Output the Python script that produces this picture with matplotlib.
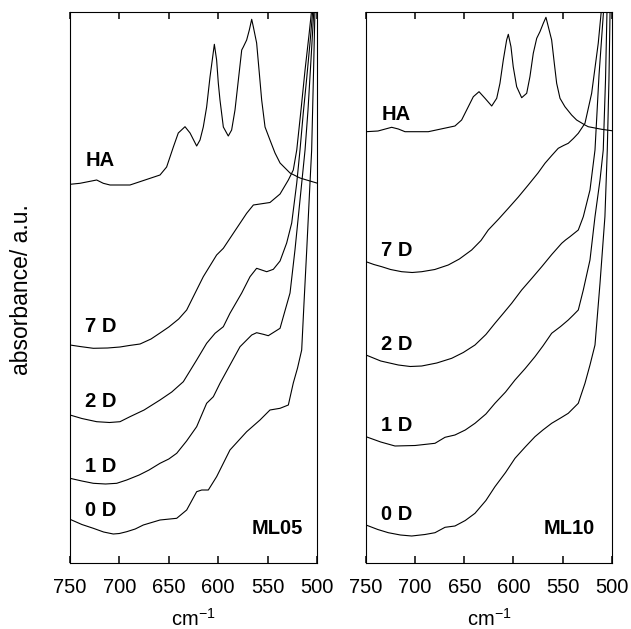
import numpy as np
import matplotlib
matplotlib.use("Agg")
import matplotlib.pyplot as plt

plt.rcParams['font.family'] = ['Liberation Sans', 'DejaVu Sans']
plt.rcParams['mathtext.fontset'] = 'custom'
plt.rcParams['mathtext.rm'] = 'Liberation Sans'
plt.rcParams['mathtext.it'] = 'Liberation Sans'
plt.rcParams['xtick.direction'] = 'in'
plt.rcParams['xtick.top'] = True
plt.rcParams['xtick.major.size'] = 5
plt.rcParams['xtick.major.width'] = 1.1

# ---- ML05 panel (wavenumber cm-1, absorbance a.u. stacked) ----
ml05_ha_wn = [750, 739.9, 723.0, 716.3, 709.5, 689.3, 658.9, 652.2, 645.4, 640.4, 633.6, 628.5,
              621.8, 618.4, 615.1, 611.7, 608.3, 605.6, 603.9, 601.6, 599.9, 598.2, 594.8, 589.8,
              586.4, 583.0, 579.6, 576.2, 574.6, 571.2, 568.5, 566.1, 564.4, 561.1, 558.4, 556.0,
              552.6, 547.6, 542.5, 537.4, 527.3, 517.2, 510.5, 500.3]
ml05_ha_y = [378.7, 379.7, 383, 379.7, 378, 378, 388, 396, 416, 430, 436.3, 430,
             417, 423, 436, 456, 486, 506, 518.7, 503, 480, 463, 436, 427,
             433, 453, 483, 513, 516, 523, 533, 543.7, 536, 520, 490, 463,
             436, 423, 410, 400, 390, 385, 383, 380]

ml05_7d_wn = [750, 740, 726.4, 712, 699.4, 690, 679.1, 668, 658.9, 650, 640, 631.9, 625.2, 615.1,
              601.6, 594.8, 584.7, 571.2, 564.4, 557.7, 547.6, 537.4, 529.0, 524.0, 520.5, 516.2,
              512.1, 508.1, 505.1]
ml05_7d_y = [218, 216.5, 214.7, 215, 216, 217.5, 219, 224, 230, 236, 244, 253, 266.3, 286.3,
             308, 314.7, 329.7, 349.7, 358, 359, 360.5, 369, 383, 393, 413, 453,
             493, 528, 556]

ml05_2d_wn = [750, 738, 723.0, 710, 699.4, 689.3, 675, 658.9, 647, 635.3, 621.8, 611.7, 603.2,
              594.8, 588.1, 576.2, 567.8, 561.1, 556.0, 550.9, 544.2, 537.4, 530.7, 525.6, 520.5,
              517.2, 513.9, 510.4, 507.1, 504.0]
ml05_2d_y = [148, 144.5, 141.3, 140.5, 141.3, 146.3, 153, 163, 171, 181.3, 203, 219.7, 229.7,
             236.3, 249.7, 270, 286.3, 294.7, 293, 291.3, 293.7, 302, 320, 340, 380,
             413, 450, 485, 520, 556]

ml05_1d_wn = [750, 738, 726.4, 714, 702.7, 692.6, 680, 670, 658.9, 650, 642.0, 632, 621.8, 611.7,
              604.9, 598.2, 577.9, 566.1, 561.1, 554.3, 549.3, 537.4, 534.1, 527.3, 522.3, 517.2,
              512.1, 509.1, 506.1, 503.0]
ml05_1d_y = [84.7, 82, 79.7, 79, 79.7, 83, 88, 93, 99.7, 104, 109.7, 122, 136.3, 159.7,
             166.3, 179.7, 216.3, 228, 230.3, 228.7, 227.3, 234.7, 246.3, 270, 313, 363,
             413, 453, 503, 556]

ml05_0d_wn = [750, 738, 726.4, 716, 706.2, 700, 692.6, 684, 675.8, 658.9, 642.0, 631.9, 621.8,
              616.7, 610.0, 601.6, 588.1, 571.2, 557.7, 547.6, 537.4, 529.0, 524.0, 519.7, 515.5,
              513.2, 510.4, 507.1, 505.4, 503.7, 502.0]
ml05_0d_y = [43.7, 38.5, 34.7, 31, 29, 29.5, 31.3, 34, 38, 43, 44.7, 53, 71.3,
             73, 73, 86.3, 113, 131.3, 143, 153, 154.7, 158, 180, 195, 213,
             259, 313, 380, 413, 483, 556]

# ---- ML10 panel ----
ml10_ha_wn = [750, 737.8, 723.9, 717.1, 710.3, 686.6, 659.5, 652.7, 645.9, 640.8, 635.0, 628.9,
              622.1, 617.0, 613.7, 610.3, 606.9, 605.2, 602.5, 600.2, 596.7, 591.6, 586.5, 583.2,
              579.8, 576.3, 573.0, 569.6, 566.9, 564.5, 561.1, 558.4, 556.0, 552.6, 547.6, 540.8,
              535.7, 527.2, 523.9, 510.2, 500.0]
ml10_ha_y = [431.3, 432, 435.7, 434, 431.3, 431.3, 437, 443, 456.3, 466.3, 471.3, 464.7,
             457, 464.7, 479.7, 503, 523, 528.7, 516.3, 496.3, 476.3, 465.3, 469.7, 486.3,
             509.7, 524.7, 531.3, 539.7, 545.7, 536.3, 523, 499.7, 479.7, 464.7, 456.3, 448,
             443, 438, 436.3, 433.7, 432.3]

ml10_7d_wn = [750, 742, 734.0, 725, 713.7, 703, 693.3, 680, 666.3, 655, 642.5, 633, 625.6, 615,
              605.2, 595, 584.9, 575, 567.9, 561, 554.4, 549, 544.2, 539, 534.0, 527.2, 520.4,
              513.7, 510.2]
ml10_7d_y = [301.3, 298.5, 296.3, 293.5, 291.3, 290.5, 291.3, 293.5, 298, 304, 313, 322.5, 333, 344,
             354.7, 366, 378, 390, 399.7, 407.5, 414.7, 417.5, 419.7, 424.5, 429.7, 439.7, 469.7,
             519.7, 556]

ml10_2d_wn = [750, 735, 717.1, 705, 693.3, 678, 662.8, 651, 639.1, 628, 618.8, 610, 601.8, 591.6,
              581, 571.2, 561, 550.9, 547, 542.5, 534.0, 528.9, 522.1, 517.0, 512.9, 508.0]
ml10_2d_y = [208, 202, 198, 196.5, 197, 200, 204.7, 210.5, 218, 228.5, 239.7, 250, 259.7, 273,
             285, 296.3, 308.5, 319.7, 323, 326.3, 333, 346.3, 373, 413, 488, 556]

ml10_1d_wn = [750, 735, 720.5, 700, 679.8, 669.6, 659.5, 649, 639.1, 628, 618.8, 608, 598.4, 588,
              578.1, 570, 561.1, 552, 544.2, 539, 534.0, 528.9, 522.1, 517.0, 511.9, 508.6, 506.3,
              504.7]
ml10_1d_y = [126.3, 121, 117, 117.5, 119.7, 125.7, 128, 133, 139.7, 149, 159.7, 171, 183, 194.5,
             206.3, 217, 229.7, 236.5, 243, 248, 253, 273, 303, 346.3, 383, 413, 483,
             556]

ml10_0d_wn = [750, 738, 727.3, 715, 703.5, 690, 679.8, 669.6, 659.5, 649, 639.1, 628, 618.8, 608,
              598.4, 588, 578.1, 570, 561.1, 552, 544.2, 534.0, 527.2, 522.1, 517.0, 511.9, 506.9,
              504.5, 502.8, 501.6]
ml10_0d_y = [38, 33.5, 30.3, 28, 27, 28.5, 30.3, 35.7, 37, 42.5, 49.7, 62.5, 76.3, 90.5,
             104.7, 116, 126.3, 133, 139.7, 145, 149.7, 159.7, 179.7, 198, 218, 279.7, 346.3,
             413, 483, 556]

ml05_labels = ['HA', '7 D', '2 D', '1 D', '0 D']
ml05_label_y = [403, 236.5, 161.5, 96.5, 53]
ml10_labels = ['HA', '7 D', '2 D', '1 D', '0 D']
ml10_label_y = [448, 313, 218, 137.5, 48]
xticks = [750, 700, 650, 600, 550, 500]

fig = plt.figure(figsize=(6.31, 6.29), dpi=100)
ax1 = fig.add_axes([70 / 631, 1 - 563 / 629, 247 / 631, 551 / 629])
ax2 = fig.add_axes([366 / 631, 1 - 563 / 629, 245.7 / 631, 551 / 629])

panels = [
    (ax1, [(ml05_ha_wn, ml05_ha_y), (ml05_7d_wn, ml05_7d_y), (ml05_2d_wn, ml05_2d_y),
           (ml05_1d_wn, ml05_1d_y), (ml05_0d_wn, ml05_0d_y)], ml05_labels, ml05_label_y, 'ML05', 514.2),
    (ax2, [(ml10_ha_wn, ml10_ha_y), (ml10_7d_wn, ml10_7d_y), (ml10_2d_wn, ml10_2d_y),
           (ml10_1d_wn, ml10_1d_y), (ml10_0d_wn, ml10_0d_y)], ml10_labels, ml10_label_y, 'ML10', 517.0),
]

for ax, curves, labels, label_y, name, name_x in panels:
    for wn, y in curves:
        ax.plot(wn, y, color='black', lw=0.8)
    for lab, ly in zip(labels, label_y):
        ax.text(734.5, ly, lab, fontsize=14.5, fontweight='bold', ha='left', va='center')
    ax.text(name_x, 34.5, name, fontsize=14.5, fontweight='bold', ha='right', va='center')
    ax.set_xlim(750, 500)
    ax.set_ylim(0, 551)
    ax.set_xticks(xticks)
    ax.tick_params(axis='y', left=False, right=False, labelleft=False)
    ax.tick_params(axis='x', labelsize=14.5, pad=10.5)
    for s in ax.spines.values():
        s.set_linewidth(0.8)
    ax.set_xlabel('cm$^{-1}$', fontsize=14.5, labelpad=8)

fig.text(22 / 631, 1 - 290 / 629, 'absorbance/ a.u.', rotation=90, fontsize=16.5,
         ha='center', va='center')

fig.savefig('out.png', dpi=100)
